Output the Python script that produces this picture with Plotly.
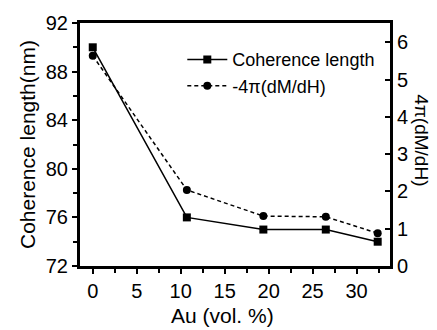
import plotly.graph_objects as go

# Data
au_vol = [0, 10.7, 19.4, 26.5, 32.4]
coherence_length = [90.0, 76.0, 75.0, 75.0, 74.0]
dmdh = [5.64, 2.04, 1.34, 1.32, 0.88]

series_names = ["Coherence length", "-4π(dM/dH)"]
x_ticks = [0, 5, 10, 15, 20, 25, 30]
y_ticks = [72, 76, 80, 84, 88, 92]
y2_ticks = [0, 1, 2, 3, 4, 5, 6]

FONT = "Liberation Sans, Arial, sans-serif"

fig = go.Figure()
fig.add_trace(go.Scatter(
    x=au_vol, y=coherence_length, name=series_names[0],
    mode="lines+markers",
    line=dict(color="black", width=1.5),
    marker=dict(symbol="square", size=8, color="black"),
))
fig.add_trace(go.Scatter(
    x=au_vol, y=dmdh, name=series_names[1], yaxis="y2",
    mode="lines+markers",
    line=dict(color="black", width=1.5, dash="4px,3px"),
    marker=dict(symbol="circle", size=8, color="black"),
))

fig.update_layout(
    width=437, height=330,
    margin=dict(l=80, r=47, t=15, b=64),
    paper_bgcolor="white", plot_bgcolor="white",
    font=dict(family=FONT, size=19, color="black"),
    showlegend=True,
    legend=dict(x=0.33, y=0.925, xanchor="left", yanchor="top",
                bgcolor="rgba(0,0,0,0)", font=dict(size=18),
                itemwidth=40, tracegroupgap=0),
    xaxis=dict(range=[-1.45, 33.8], tickvals=x_ticks,
               showline=True, linewidth=3, linecolor="black", mirror=True,
               ticks="outside", ticklen=5, tickwidth=2, tickcolor="black",
               minor=dict(dtick=2.5, tick0=0, ticks="outside", ticklen=4,
                          tickwidth=2, tickcolor="black"),
               showgrid=False, zeroline=False, tickfont=dict(size=20)),
    yaxis=dict(range=[72, 92], tickvals=y_ticks,
               showline=True, linewidth=3, linecolor="black",
               ticks="outside", ticklen=5, tickwidth=2, tickcolor="black",
               minor=dict(dtick=2, tick0=72, ticks="outside", ticklen=4,
                          tickwidth=2, tickcolor="black"),
               showgrid=False, zeroline=False, tickfont=dict(size=20)),
    yaxis2=dict(range=[0, 6.52], tickvals=y2_ticks, overlaying="y",
                side="right", showline=True, linewidth=3, linecolor="black",
                ticks="inside", ticklen=5, tickwidth=2, tickcolor="black",
                showgrid=False, zeroline=False, tickfont=dict(size=20)),
    annotations=[
        dict(text="Coherence length(nm)", xref="paper", yref="paper",
             x=-0.171, y=0.502, textangle=-90, showarrow=False,
             xanchor="center", yanchor="middle", font=dict(size=21)),
        dict(text="Au (vol. %)", xref="paper", yref="paper",
             x=0.461, y=-0.203, showarrow=False,
             xanchor="center", yanchor="middle", font=dict(size=21)),
        dict(text="4π(dM/dH)", xref="paper", yref="paper",
             x=1.103, y=0.518, textangle=90, showarrow=False,
             xanchor="center", yanchor="middle", font=dict(size=19)),
    ],
)

fig.write_html("out.html")
